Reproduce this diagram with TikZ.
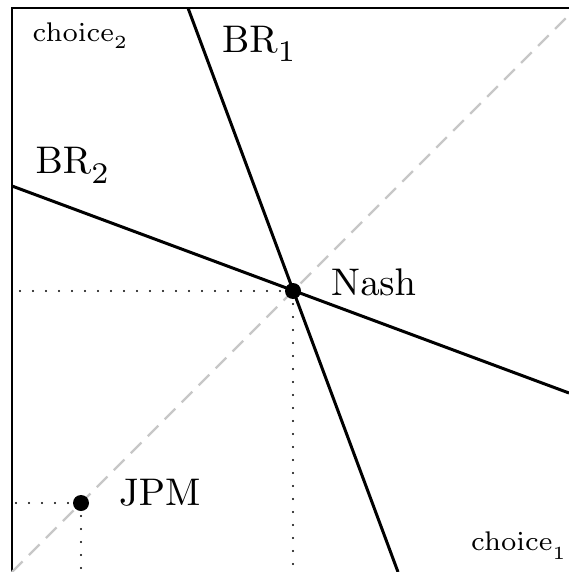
\documentclass[tikz,border=0pt]{standalone}
% Computer Modern at fixed design sizes, scaled up
\font\lblfont=cmr10 at 38.5pt
\font\lblsub=cmr7 at 30pt
\font\axfont=cmr7 at 27pt
\font\axsub=cmr5 at 18.5pt
\newcommand{\lblsubscript}[1]{\raisebox{-9.5pt}{\lblsub #1}}
\newcommand{\axsubscript}[2]{\raisebox{-#2}{\axsub #1}}
\begin{document}
\begin{tikzpicture}[x=1pt,y=-1pt,
  frameline/.style={line width=2.4pt},
  brline/.style={line width=3pt},
  diag/.style={line width=2.2pt,color=black!22,dash pattern=on 15pt off 9pt},
  guide/.style={line width=2.4pt,line cap=round,dash pattern=on 0pt off 13pt},
  eqdot/.style={circle,fill=black,inner sep=0pt,minimum size=16pt},
  biglabel/.style={anchor=base west,inner sep=0pt,font=\lblfont},
  smalllabel/.style={anchor=base west,inner sep=0pt,font=\axfont}]
  \useasboundingbox (0,0) rectangle (569,572);
  \clip (0,0) rectangle (569,572);

  % corner points of the choice square
  \coordinate (origin) at (12,572);
  \coordinate (corner) at (576,8);
  \coordinate (topleft) at (12,8);
  \coordinate (topright) at (580,8);
  \coordinate (axisbottom) at (12,580);

  % frame: left and top sides
  \draw[frameline] (axisbottom) -- (topleft) -- (topright);

  % symmetric diagonal
  \draw[diag] (origin) -- (corner);

  % best-response lines
  \coordinate (br1top) at (188,8);
  \coordinate (br1bot) at (398,572);
  \coordinate (br2left) at (12,186);
  \coordinate (br2right) at (569,393);
  \draw[brline] (br1top) -- (br1bot);
  \draw[brline] (br2left) -- (br2right);

  % equilibrium points
  \node[eqdot] (nash) at (293,291) {};
  \node[eqdot] (jpm) at (81,503) {};
  \coordinate (nashx) at (12,291);
  \coordinate (nashy) at (293,572);
  \coordinate (jpmx) at (12,503);
  \coordinate (jpmy) at (81,572);

  % projections onto the axes
  \draw[guide] (nash.center) -- (nashx);
  \draw[guide] (nash.center) -- (nashy);
  \draw[guide] (jpm.center) -- (jpmx);
  \draw[guide] (jpm.center) -- (jpmy);

  % labels
  \node[smalllabel] (lc2) at (32.5,41.7) {choice\axsubscript{2}{6.8pt}};
  \node[smalllabel] (lc1) at (471,550) {choice\axsubscript{1}{9.5pt}};
  \node[biglabel] (lbr1) at (222,52.5) {BR\lblsubscript{1}};
  \node[biglabel] (lbr2) at (35.5,173.5) {BR\lblsubscript{2}};
  \node[biglabel] (lnash) at (331,295) {Nash};
  \node[biglabel] (ljpm) at (119,505) {JPM};
\end{tikzpicture}
\end{document}
